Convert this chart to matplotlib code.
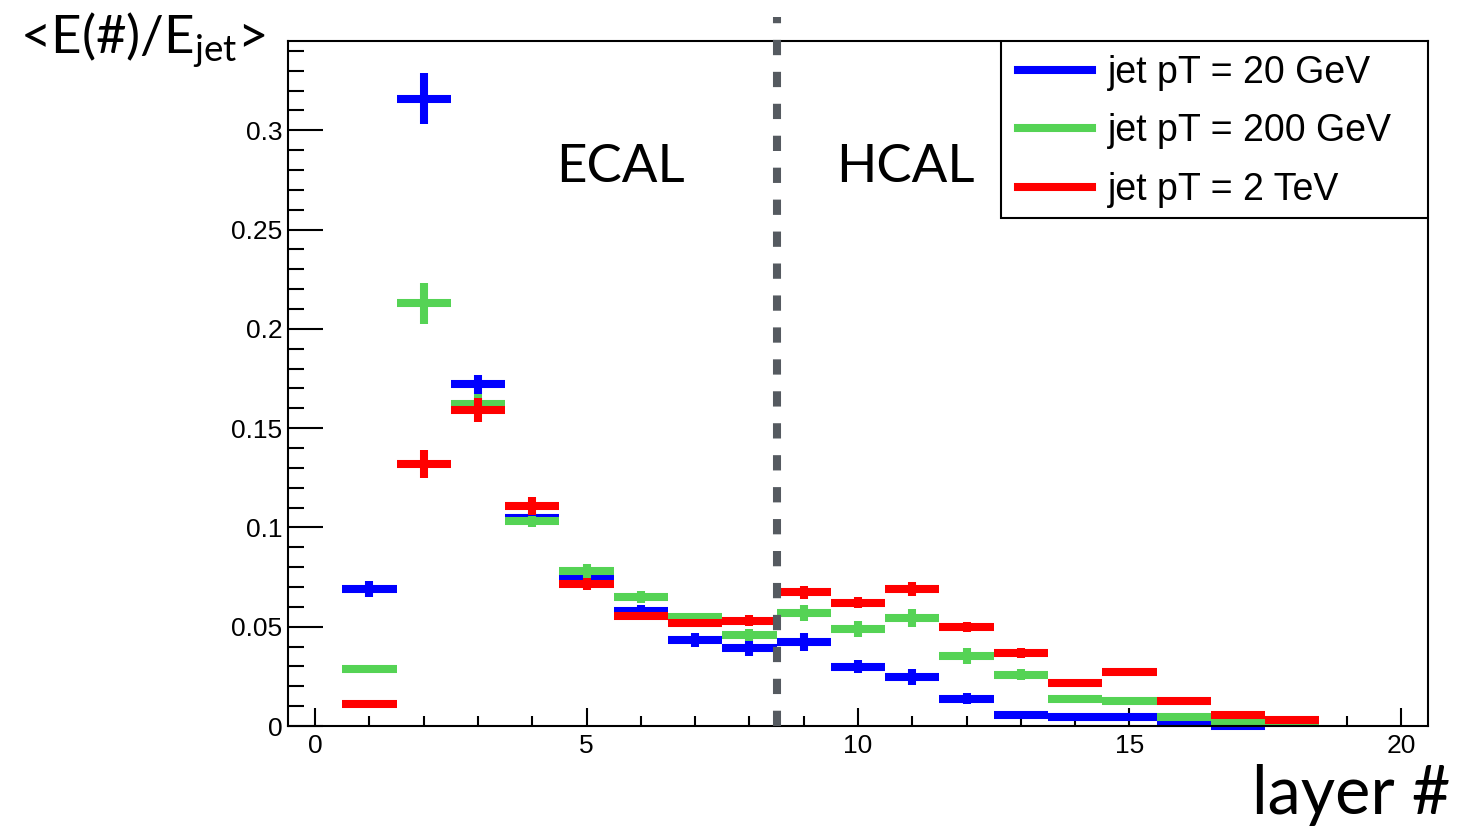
import numpy as np
import matplotlib
matplotlib.use("Agg")
import matplotlib.pyplot as plt
from matplotlib.lines import Line2D
from matplotlib.patches import Rectangle
from matplotlib.ticker import MultipleLocator, FormatStrFormatter

plt.rcParams["font.family"] = ["Liberation Sans", "DejaVu Sans"]
plt.rcParams["mathtext.fontset"] = "custom"
plt.rcParams["mathtext.rm"] = "Lato"
plt.rcParams["lines.scale_dashes"] = False

# mean energy fraction per layer
blue_vals = [0.069, 0.316, 0.172, 0.105, 0.075, 0.0577, 0.0434, 0.0393, 0.0422,
             0.0299, 0.0245, 0.0138, 0.0057, 0.0046, 0.0044, 0.0017, 0.0]
blue_err = [0.004, 0.013, 0.0048, 0.003, 0.003, 0.003, 0.0034, 0.004, 0.0046,
            0.0034, 0.004, 0.0027, 0.002, 0.002, 0.002, 0.001, 0.001]
green_vals = [0.0286, 0.2128, 0.1624, 0.103, 0.078, 0.065, 0.0548, 0.046, 0.0568,
              0.0488, 0.0543, 0.0353, 0.0259, 0.0138, 0.0125, 0.0044, 0.0014, 0.0014]
green_err = [0.0018, 0.0105, 0.005, 0.003, 0.0038, 0.003, 0.002, 0.003, 0.0039,
             0.004, 0.0046, 0.004, 0.0027, 0.002, 0.002, 0.001, 0.001, 0.001]
red_vals = [0.0111, 0.132, 0.159, 0.1106, 0.0716, 0.0555, 0.052, 0.053, 0.0674,
            0.0622, 0.069, 0.050, 0.0367, 0.0219, 0.0271, 0.0125, 0.0055, 0.003]
red_err = [0.001, 0.007, 0.006, 0.0045, 0.003, 0.002, 0.002, 0.0027, 0.0033,
           0.0028, 0.0034, 0.0025, 0.0027, 0.002, 0.002, 0.001, 0.001, 0.001]

labels = ["jet pT = 20 GeV", "jet pT = 200 GeV", "jet pT = 2 TeV"]
colors = ["#0000ff", "#55d355", "#ff0000"]

fig = plt.figure(figsize=(14.65, 8.32), dpi=100)
ax = fig.add_axes([288 / 1465, 106 / 832, 1140 / 1465, 685 / 832])

for vals, errs, c in zip([blue_vals, green_vals, red_vals],
                         [blue_err, green_err, red_err], colors):
    x = np.arange(1, len(vals) + 1)
    ax.errorbar(x, vals, xerr=0.5, yerr=errs, fmt="none", ecolor=c,
                elinewidth=5.8, capsize=0, clip_on=False)

# ECAL / HCAL boundary
ax.plot([8.5, 8.5], [0, 0.357], color="#555a60", lw=5.8, dashes=(11, 12),
        clip_on=False, zorder=5)

ax.text(5.62, 0.2815, "ECAL", family="Lato", fontsize=38, ha="center", va="center")
ax.text(10.88, 0.2815, "HCAL", family="Lato", fontsize=38, ha="center", va="center")

ax.set_xlim(-0.5, 20.5)
ax.set_ylim(0, 0.345)
ax.xaxis.set_major_locator(MultipleLocator(5))
ax.xaxis.set_minor_locator(MultipleLocator(1))
ax.yaxis.set_major_locator(MultipleLocator(0.05))
ax.yaxis.set_minor_locator(MultipleLocator(0.01))
ax.xaxis.set_major_formatter(FormatStrFormatter("%g"))
ax.yaxis.set_major_formatter(FormatStrFormatter("%g"))
ax.tick_params(axis="x", which="major", direction="in", length=13, width=1.5,
               labelsize=19, pad=6)
ax.tick_params(axis="x", which="minor", direction="in", length=7, width=1.5)
ax.tick_params(axis="y", which="major", direction="in", length=25, width=1.5,
               labelsize=19, pad=4)
ax.tick_params(axis="y", which="minor", direction="in", length=11.5, width=1.5)
for sp in ax.spines.values():
    sp.set_linewidth(1.5)

# ROOT-style legend box, drawn in axes coordinates
ax.add_patch(Rectangle((0.6254, 0.7416), 1 - 0.6254, 1 - 0.7416,
                       transform=ax.transAxes, facecolor="white",
                       edgecolor="black", lw=1.5, zorder=10))
for i, (lab, c) in enumerate(zip(labels, colors)):
    yy = 0.9577 - i * 0.0854
    ax.add_line(Line2D([0.6404, 0.7053], [yy, yy], color=c, lw=5.8,
                       transform=ax.transAxes, zorder=11))
    ax.text(0.7193, yy - 0.004, lab, fontsize=27, ha="left", va="center",
            transform=ax.transAxes, zorder=11)

fig.text(20 / 1465, 0.952, r"<E(#)/E$_{\mathrm{jet}}$>", family="Lato",
         fontsize=38, ha="left", va="center")
fig.text(0.99, 0.045, "layer #", family="Lato", fontsize=48, ha="right",
         va="center")

fig.savefig("out.png", dpi=100)
